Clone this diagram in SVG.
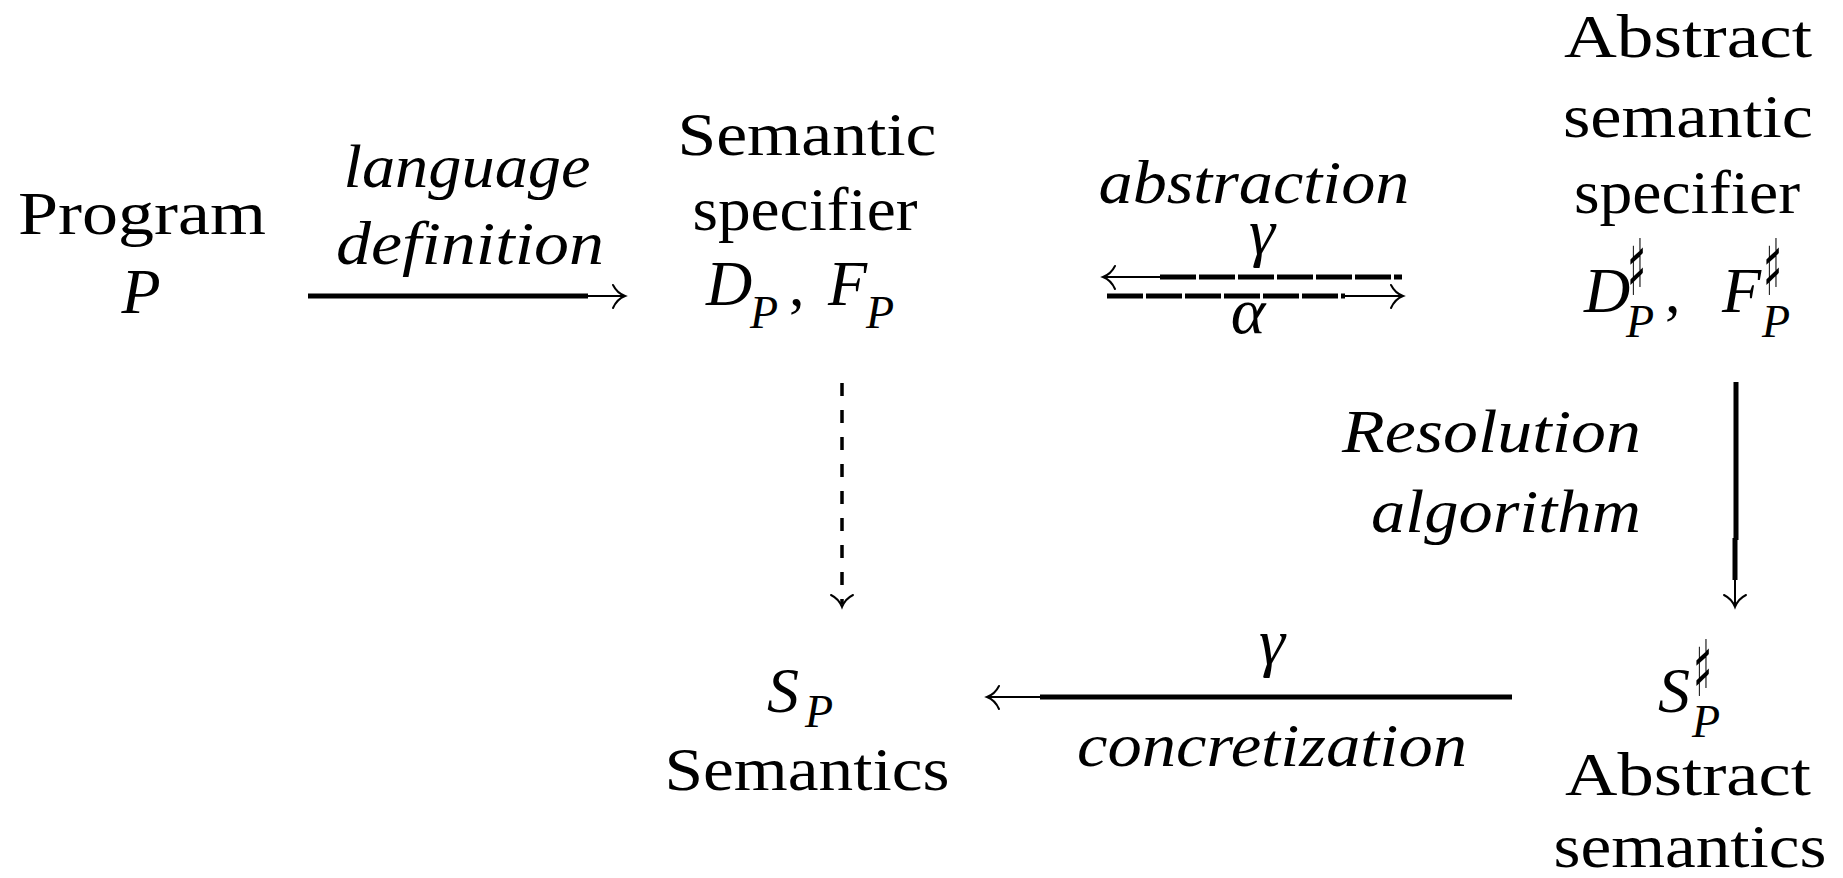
<svg xmlns="http://www.w3.org/2000/svg" width="1843" height="878" viewBox="0 0 1843 878">
<style>
  .rm { font-family: "Liberation Serif", "DejaVu Serif", serif; font-size: 62px; fill: #000; }
  .it { font-family: "Liberation Serif", "DejaVu Serif", serif; font-style: italic; font-size: 62px; fill: #000; }
  .mi { font-family: "Liberation Serif", "DejaVu Serif", serif; font-style: italic; font-size: 64px; fill: #000; }
  .sub { font-family: "Liberation Serif", "DejaVu Serif", serif; font-style: italic; font-size: 46px; fill: #000; }
  .sh { font-family: "DejaVu Sans", sans-serif; font-size: 78px; fill: #000; }
  .gr { font-family: "Liberation Serif", "DejaVu Serif", serif; font-style: italic; font-size: 66px; fill: #000; }
  .thick { stroke: #000; stroke-width: 5; fill: none; }
  .thin { stroke: #000; stroke-width: 2; fill: none; }
  .dash { stroke: #000; stroke-width: 5; fill: none; stroke-dasharray: 36 3; }
  .vdash { stroke: #000; stroke-width: 3.5; fill: none; stroke-dasharray: 13 14; }
  .head { stroke: #000; stroke-width: 2; fill: none; stroke-linecap: round; }
</style>

<g id="connectors">
  <g id="edge-language">
    <line class="thick" x1="308" y1="296" x2="588" y2="296"/>
    <line class="thin" x1="586" y1="296" x2="624" y2="296"/>
    <path class="head" d="M613,285 Q617,293 625,296 Q617,299 613,308"/>
  </g>
  <g id="edge-gamma-top">
    <line class="dash" x1="1160" y1="277" x2="1402" y2="277"/>
    <line class="thin" x1="1105" y1="277" x2="1162" y2="277"/>
    <path class="head" d="M1115,266 Q1111,274 1103,277 Q1111,280 1115,289"/>
  </g>
  <g id="edge-alpha">
    <line class="dash" x1="1107" y1="296" x2="1345" y2="296"/>
    <line class="thin" x1="1343" y1="296" x2="1401" y2="296"/>
    <path class="head" d="M1391,285 Q1395,293 1403,296 Q1395,299 1391,308"/>
  </g>
  <g id="edge-dashed">
    <line class="vdash" x1="842" y1="383" x2="842" y2="604"/>
    <path class="head" d="M831,595 Q839,599 842,607 Q845,599 853,595"/>
  </g>
  <g id="edge-resolution">
    <line class="thick" x1="1736" y1="382" x2="1736" y2="540"/>
    <line class="thick" x1="1735" y1="538" x2="1735" y2="580"/>
    <line class="thin" x1="1735" y1="578" x2="1735" y2="605"/>
    <path class="head" d="M1724,595 Q1732,599 1735,607 Q1738,599 1746,595"/>
  </g>
  <g id="edge-concretization">
    <line class="thick" x1="1040" y1="697" x2="1512" y2="697"/>
    <line class="thin" x1="989" y1="697" x2="1042" y2="697"/>
    <path class="head" d="M999,686 Q995,694 987,697 Q995,700 999,709"/>
  </g>
</g>

<g id="labels">
  <g id="label-language">
    <text class="it" x="467" y="187" text-anchor="middle" textLength="247" lengthAdjust="spacingAndGlyphs">language</text>
    <text class="it" x="470" y="264" text-anchor="middle" textLength="268" lengthAdjust="spacingAndGlyphs">definition</text>
  </g>
  <g id="label-abstraction">
    <text class="it" x="1254" y="203" text-anchor="middle" textLength="311" lengthAdjust="spacingAndGlyphs">abstraction</text>
    <text class="gr" x="1262" y="254" text-anchor="middle">γ</text>
    <text class="gr" x="1248" y="333" text-anchor="middle" font-size="58">α</text>
  </g>
  <g id="label-resolution">
    <text class="it" x="1641" y="452" text-anchor="end" textLength="299" lengthAdjust="spacingAndGlyphs">Resolution</text>
    <text class="it" x="1641" y="532" text-anchor="end" textLength="270" lengthAdjust="spacingAndGlyphs">algorithm</text>
  </g>
  <g id="label-concretization">
    <text class="gr" x="1272" y="664" text-anchor="middle">γ</text>
    <text class="it" x="1272" y="766" text-anchor="middle" textLength="390" lengthAdjust="spacingAndGlyphs">concretization</text>
  </g>
</g>

<g id="node-program">
  <text class="rm" x="142" y="234" text-anchor="middle" textLength="248" lengthAdjust="spacingAndGlyphs">Program</text>
  <text class="mi" x="141" y="313" text-anchor="middle">P</text>
</g>

<g id="node-semantic-specifier">
  <text class="rm" x="807" y="155" text-anchor="middle" textLength="259" lengthAdjust="spacingAndGlyphs">Semantic</text>
  <text class="rm" x="805" y="230" text-anchor="middle" textLength="225" lengthAdjust="spacingAndGlyphs">specifier</text>
  <text class="mi" x="706" y="305">D</text>
  <text class="sub" x="750" y="328">P</text>
  <text class="rm" x="789" y="305">,</text>
  <text class="mi" x="828" y="305">F</text>
  <text class="sub" x="866" y="328">P</text>
</g>

<g id="node-abstract-specifier">
  <text class="rm" x="1688" y="57" text-anchor="middle" textLength="248" lengthAdjust="spacingAndGlyphs">Abstract</text>
  <text class="rm" x="1688" y="137" text-anchor="middle" textLength="250" lengthAdjust="spacingAndGlyphs">semantic</text>
  <text class="rm" x="1687" y="213" text-anchor="middle" textLength="226" lengthAdjust="spacingAndGlyphs">specifier</text>
  <text class="mi" x="1584" y="312">D</text>
  <text class="sh" transform="translate(1627,295) scale(0.5,1)">♯</text>
  <text class="sub" x="1626" y="337">P</text>
  <text class="rm" x="1665" y="312">,</text>
  <text class="mi" x="1722" y="312">F</text>
  <text class="sh" transform="translate(1763,295) scale(0.5,1)">♯</text>
  <text class="sub" x="1762" y="337">P</text>
</g>

<g id="node-semantics">
  <text class="mi" x="767" y="712">S</text>
  <text class="sub" x="805" y="727">P</text>
  <text class="rm" x="807" y="790" text-anchor="middle" textLength="285" lengthAdjust="spacingAndGlyphs">Semantics</text>
</g>

<g id="node-abstract-semantics">
  <text class="mi" x="1658" y="712">S</text>
  <text class="sh" transform="translate(1693,696) scale(0.5,1)">♯</text>
  <text class="sub" x="1692" y="737">P</text>
  <text class="rm" x="1688" y="795" text-anchor="middle" textLength="246" lengthAdjust="spacingAndGlyphs">Abstract</text>
  <text class="rm" x="1690" y="867" text-anchor="middle" textLength="273" lengthAdjust="spacingAndGlyphs">semantics</text>
</g>
</svg>
